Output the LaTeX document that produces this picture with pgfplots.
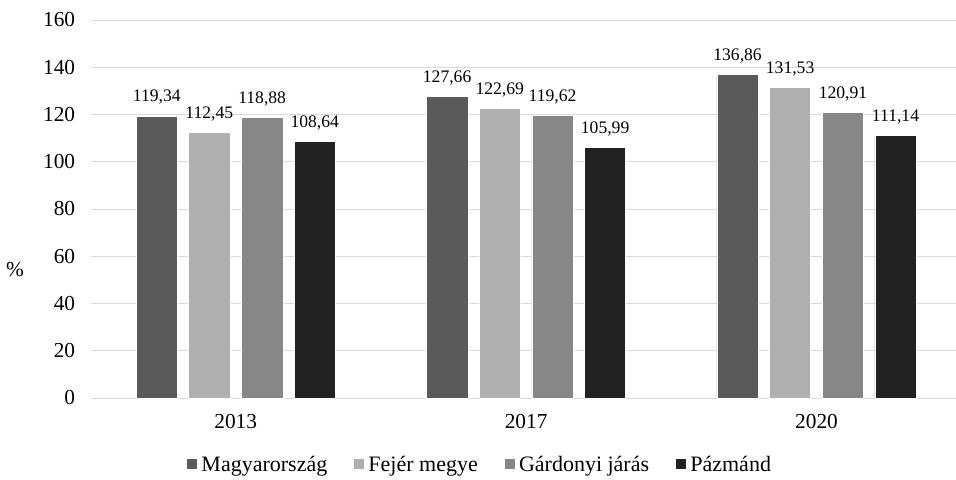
\documentclass[border=0pt]{standalone}
\usepackage{fontspec}
\setmainfont{Liberation Serif}
\usepackage{pgfplots}
\pgfplotsset{compat=1.18}

\definecolor{cMagy}{HTML}{5A5A5A}
\definecolor{cFejer}{HTML}{AFAFAF}
\definecolor{cGard}{HTML}{878787}
\definecolor{cPaz}{HTML}{222222}
\definecolor{gridc}{HTML}{D9D9D9}

\begin{document}
\begin{tikzpicture}
\useasboundingbox (-67.9pt,-60.75pt) rectangle (649.1pt,298.5pt);
\begin{axis}[
  at={(0pt,0pt)}, anchor=south west,
  scale only axis,
  width=653.4pt, height=283.5pt,
  ybar, bar width=0.142,
  xmin=-0.5, xmax=2.5,
  ymin=0, ymax=160,
  xtick=data, xticklabels={2013,2017,2020},
  ytick={0,20,...,160},
  ymajorgrids, grid style={gridc, line width=0.75pt},
  axis x line*=bottom, axis y line*=left,
  x axis line style={gridc, line width=0.75pt},
  y axis line style={draw=none},
  xtick style={draw=none}, ytick style={draw=none},
  tick label style={font=\fontsize{16}{19}\selectfont},
  /pgf/number format/assume math mode=true,
  xticklabel style={yshift=-4.5pt},
  yticklabel style={xshift=-8pt},
  nodes near coords,
  nodes near coords style={font=\fontsize{13.2}{16}\selectfont, yshift=5pt,
    /pgf/number format/.cd, fixed, fixed zerofill, precision=2, use comma, assume math mode=true},
  clip=false,
  legend columns=4,
  legend style={at={(0.447,-0.177)}, anchor=center, draw=none,
    font=\fontsize{16.5}{19}\selectfont,
    /tikz/every odd column/.append style={column sep=1pt},
    /tikz/every even column/.append style={column sep=17.5pt}},
  legend image code/.code={\fill[#1] (0pt,-3pt) rectangle (8pt,5pt);},
]
\addplot[fill=cMagy, draw=white, line width=0.4pt, bar shift=-0.272] coordinates {(0,119.34) (1,127.66) (2,136.86)};
\addplot[fill=cFejer, draw=white, line width=0.4pt, bar shift=-0.091] coordinates {(0,112.45) (1,122.69) (2,131.53)};
\addplot[fill=cGard, draw=white, line width=0.4pt, bar shift=0.091] coordinates {(0,118.88) (1,119.62) (2,120.91)};
\addplot[fill=cPaz, draw=white, line width=0.4pt, bar shift=0.272] coordinates {(0,108.64) (1,105.99) (2,111.14)};
\legend{Magyarország, Fejér megye, Gárdonyi járás, Pázmánd}
\node[font=\fontsize{16}{19}\selectfont] at (rel axis cs:0,0.339) [xshift=-56.6pt] {\%};
\end{axis}
\end{tikzpicture}
\end{document}
